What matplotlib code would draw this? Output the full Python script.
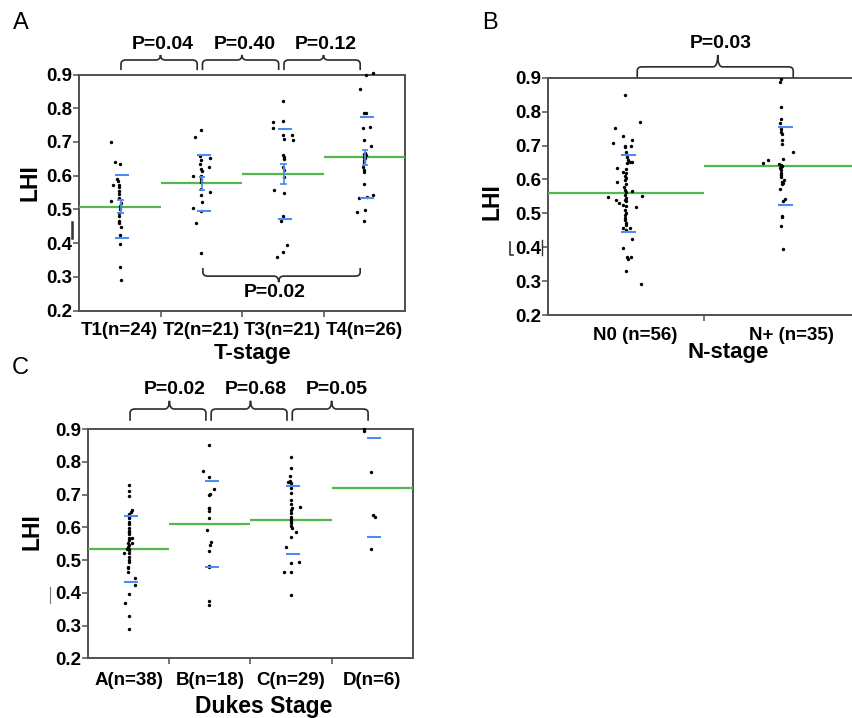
import numpy as np
import matplotlib
matplotlib.use("Agg")
import matplotlib.pyplot as plt
from matplotlib.path import Path
from matplotlib.patches import PathPatch
from matplotlib.lines import Line2D

plt.rcParams["font.family"] = ["Liberation Sans", "DejaVu Sans"]

W, H = 852, 718
GREEN = "#52b74c"
BLUE = "#4d8cf5"
SPINE = "#505050"

# ── Panel A: T-stage ───────────────────────────────────────────────────────
t_labels = ["T1(n=24)", "T2(n=21)", "T3(n=21)", "T4(n=26)"]
t_n = [24, 21, 21, 26]
t1_lhi = [0.699, 0.639, 0.634, 0.590, 0.585, 0.571, 0.572, 0.565, 0.555, 0.545, 0.535, 0.524,
          0.520, 0.510, 0.500, 0.490, 0.480, 0.466, 0.460, 0.449, 0.425, 0.398, 0.330, 0.290]
t1_jit = [-0.11, -0.053, 0.0, -0.03, -0.02, -0.01, -0.08, -0.01, -0.01, -0.01, -0.01, -0.11,
          0.01, 0.0, 0.0, -0.01, -0.01, -0.01, -0.01, 0.01, 0.0, 0.0, 0.0, 0.01]
t2_lhi = [0.735, 0.714, 0.657, 0.652, 0.645, 0.636, 0.627, 0.620, 0.615, 0.600, 0.598,
          0.590, 0.580, 0.560, 0.551, 0.543, 0.523, 0.505, 0.496, 0.461, 0.370]
t2_jit = [0.0, -0.08, -0.015, 0.105, 0.0, -0.015, 0.094, 0.0, 0.005, -0.1, -0.005,
          -0.005, -0.005, 0.0, 0.105, -0.005, 0.005, -0.1, -0.005, -0.07, -0.005]
t3_lhi = [0.822, 0.759, 0.762, 0.742, 0.722, 0.722, 0.710, 0.707, 0.660, 0.655, 0.650,
          0.627, 0.616, 0.596, 0.556, 0.548, 0.481, 0.464, 0.393, 0.373, 0.360]
t3_jit = [0.0, -0.12, 0.0, -0.12, 0.0, 0.11, 0.01, 0.12, 0.0, 0.02, 0.01,
          0.0, 0.01, 0.01, -0.105, 0.015, 0.0, -0.02, 0.057, 0.0, -0.075]
t4_lhi = [0.905, 0.898, 0.856, 0.787, 0.785, 0.745, 0.742, 0.707, 0.687, 0.667, 0.665, 0.660, 0.655,
          0.652, 0.645, 0.640, 0.627, 0.616, 0.610, 0.576, 0.544, 0.538, 0.534, 0.497, 0.493, 0.465]
t4_jit = [0.11, 0.02, -0.053, 0.0, 0.016, 0.07, -0.012, -0.004, 0.078, 0.008, 0.0, 0.02, 0.0,
          0.004, -0.004, 0.0, -0.012, 0.0, 0.0, -0.004, 0.11, 0.037, -0.06, 0.008, -0.094, 0.0]
t_mean = [0.508, 0.577, 0.605, 0.654]
t_sd = [0.094, 0.083, 0.133, 0.120]
t_pairs = ["P=0.04", "P=0.40", "P=0.12"]

# ── Panel B: N-stage ───────────────────────────────────────────────────────
n_labels = ["N0 (n=56)", "N+ (n=35)"]
n0_lhi = [0.849, 0.770, 0.751, 0.728, 0.716, 0.708, 0.700, 0.695, 0.700, 0.680, 0.665, 0.657, 0.652,
          0.650, 0.647, 0.635, 0.630, 0.623, 0.618, 0.610, 0.605, 0.598, 0.591, 0.585, 0.578, 0.570,
          0.565, 0.562, 0.555, 0.552, 0.548, 0.545, 0.540, 0.540, 0.535, 0.530, 0.525, 0.523, 0.518,
          0.510, 0.500, 0.495, 0.487, 0.480, 0.470, 0.465, 0.457, 0.458, 0.450, 0.423, 0.397, 0.372,
          0.370, 0.365, 0.331, 0.291]
n0_jit = [-0.006, 0.09, -0.07, -0.017, 0.04, -0.081, -0.006, -0.006, 0.032, -0.002, 0.004, 0.01, 0.026,
          0.04, 0.004, -0.056, 0.0, -0.021, -0.002, -0.004, 0.002, -0.006, -0.056, -0.002, -0.013, -0.006,
          0.04, 0.0, -0.004, 0.105, -0.118, 0.0, -0.064, -0.006, -0.002, -0.043, -0.017, -0.002, 0.064,
          -0.004, 0.0, -0.006, -0.006, -0.004, -0.002, 0.0, -0.017, 0.026, -0.002, 0.04, -0.017, 0.03,
          0.004, 0.01, 0.0, 0.096]
np_lhi = [0.896, 0.888, 0.813, 0.778, 0.765, 0.750, 0.739, 0.733, 0.716, 0.704, 0.680, 0.660,
          0.657, 0.649, 0.645, 0.643, 0.640, 0.640, 0.636, 0.633, 0.627, 0.620, 0.613, 0.606,
          0.599, 0.593, 0.590, 0.585, 0.572, 0.542, 0.536, 0.493, 0.488, 0.463, 0.394]
np_jit = [-0.006, -0.013, -0.006, -0.006, -0.013, -0.004, -0.006, 0.002, -0.002, 0.002, 0.068, 0.004,
          -0.092, -0.12, -0.019, -0.006, -0.004, 0.0, -0.008, -0.013, -0.008, -0.006, -0.008, -0.004,
          0.015, 0.002, 0.004, -0.002, -0.013, 0.019, 0.004, 0.002, 0.002, -0.006, 0.009]
n_mean = [0.559, 0.640]
n_sd = [0.114, 0.116]

# ── Panel C: Dukes stage ───────────────────────────────────────────────────
d_labels = ["A(n=38)", "B(n=18)", "C(n=29)", "D(n=6)"]
da_lhi = [0.730, 0.712, 0.694, 0.653, 0.648, 0.640, 0.633, 0.627, 0.616, 0.610, 0.599, 0.590, 0.585,
          0.579, 0.567, 0.567, 0.560, 0.551, 0.551, 0.546, 0.540, 0.535, 0.535, 0.530, 0.522, 0.522,
          0.510, 0.500, 0.494, 0.480, 0.475, 0.463, 0.446, 0.423, 0.396, 0.368, 0.328, 0.289]
da_jit = [0.0, 0.0, 0.0, 0.037, 0.025, 0.0, 0.0, 0.0, 0.0, 0.0, 0.0, 0.0, 0.0,
          0.008, 0.037, 0.0, 0.0, -0.016, 0.037, 0.004, -0.008, -0.025, 0.008, 0.0, -0.058, 0.0,
          0.0, 0.0, 0.0, -0.012, -0.016, -0.016, 0.07, 0.07, 0.0, -0.053, 0.008, 0.0]
db_lhi = [0.851, 0.773, 0.753, 0.718, 0.702, 0.700, 0.660, 0.658, 0.650,
          0.628, 0.592, 0.554, 0.546, 0.528, 0.482, 0.478, 0.374, 0.362]
db_jit = [-0.016, -0.086, -0.016, 0.045, -0.004, -0.016, -0.016, -0.016, -0.012,
          -0.016, -0.033, 0.008, -0.004, -0.016, -0.016, -0.008, -0.016, -0.016]
dc_lhi = [0.815, 0.780, 0.756, 0.740, 0.739, 0.736, 0.730, 0.720, 0.705, 0.682, 0.670, 0.663, 0.660,
          0.653, 0.643, 0.630, 0.625, 0.620, 0.612, 0.605, 0.599, 0.586, 0.571, 0.540, 0.494, 0.491,
          0.463, 0.463, 0.392]
dc_jit = [-0.006, -0.006, -0.018, -0.018, -0.039, 0.002, -0.006, -0.006, -0.006, -0.006, 0.0, 0.105, 0.01,
          -0.006, -0.006, 0.0, -0.006, 0.002, -0.006, 0.0, 0.01, 0.064, -0.006, -0.068, 0.097, -0.006,
          -0.092, -0.006, -0.006]
dd_lhi = [0.900, 0.893, 0.769, 0.636, 0.630, 0.533]
dd_jit = [-0.095, -0.095, -0.012, 0.008, 0.029, -0.012]
d_mean = [0.534, 0.610, 0.622, 0.720]
d_sd = [0.100, 0.1315, 0.1025, 0.151]
d_pairs = ["P=0.02", "P=0.68", "P=0.05"]


def axes_px(fig, left, top, right, bottom):
    """Add axes from pixel edges (origin top-left)."""
    return fig.add_axes([left / W, 1 - bottom / H, (right - left) / W, (bottom - top) / H])


def style_axes(ax, labels, label_shift=0.0, pad=7):
    ncat = len(labels)
    ax.set_xlim(0, ncat)
    ax.set_ylim(0.2, 0.9)
    yt = [0.2, 0.3, 0.4, 0.5, 0.6, 0.7, 0.8, 0.9]
    ax.set_yticks(yt)
    ax.set_yticklabels([f"{v:.1f}" for v in yt], fontweight="bold", fontsize=13.5)
    ax.set_xticks(np.arange(1, ncat))
    ax.set_xticklabels([])
    ax.set_xticks(np.arange(ncat) + 0.5 + label_shift, minor=True)
    ax.set_xticklabels(labels, minor=True, fontweight="bold", fontsize=13.5)
    ax.tick_params(axis="y", length=4.5, width=1.1, pad=0.5, color=SPINE)
    ax.tick_params(axis="x", which="major", length=4.5, width=1.1, color=SPINE)
    ax.tick_params(axis="x", which="minor", length=0, pad=pad)
    for sp in ax.spines.values():
        sp.set_color(SPINE)
        sp.set_linewidth(1.4)


def draw_group(ax, i, vals, jit, mean, sd, n=None, sd_off=0.025, sd_w=0.17):
    c = i + 0.5
    ax.scatter(c + np.asarray(jit), vals, s=6, color="black", linewidths=0, zorder=4, clip_on=False)
    ax.hlines(mean, i, i + 1, color=GREEN, lw=1.6, zorder=3)
    x = c + sd_off
    ax.hlines([mean - sd, mean + sd], x - sd_w / 2, x + sd_w / 2, color=BLUE, lw=1.5, zorder=5)
    if n is not None:
        # mean +/- SEM error bar
        sem = sd / np.sqrt(n)
        xe = c + 0.012
        ax.vlines(xe, mean - sem, mean + sem, color=BLUE, lw=1.3, zorder=5)
        ax.hlines([mean - sem, mean + sem], xe - 0.04, xe + 0.04, color=BLUE, lw=1.3, zorder=5)


def brace(ax, x0, x1, xm, y_end, y_bar, y_tip, rx, ry):
    """Curly bracket between x0 and x1 with its point at xm."""
    d = np.sign(y_tip - y_bar)
    verts = [
        (x0, y_end), (x0, y_bar - d * ry),
        (x0, y_bar), (x0 + rx, y_bar),
        (xm - rx, y_bar),
        (xm, y_bar), (xm, y_tip),
        (xm, y_bar), (xm + rx, y_bar),
        (x1 - rx, y_bar),
        (x1, y_bar), (x1, y_bar - d * ry),
        (x1, y_end),
    ]
    codes = [Path.MOVETO, Path.LINETO,
             Path.CURVE3, Path.CURVE3,
             Path.LINETO,
             Path.CURVE3, Path.CURVE3,
             Path.CURVE3, Path.CURVE3,
             Path.LINETO,
             Path.CURVE3, Path.CURVE3,
             Path.LINETO]
    ax.add_patch(PathPatch(Path(verts, codes), fill=False, edgecolor="#2b2b2b",
                           lw=1.2, clip_on=False, zorder=6))


def stray(fig, xs, ys, lw=1.5, color="#333333"):
    fig.add_artist(Line2D([x / W for x in xs], [1 - y / H for y in ys], lw=lw, color=color))


fig = plt.figure(figsize=(W / 100, H / 100), dpi=100)
fig.patch.set_facecolor("white")

# ── A ──────────────────────────────────────────────────────────────────────
axA = axes_px(fig, 79, 74.5, 405, 310.5)
style_axes(axA, t_labels, pad=8)
for i, (v, j) in enumerate([(t1_lhi, t1_jit), (t2_lhi, t2_jit), (t3_lhi, t3_jit), (t4_lhi, t4_jit)]):
    draw_group(axA, i, v, j, t_mean[i], t_sd[i], n=t_n[i], sd_off=0.03)
for k, p in enumerate(t_pairs):
    brace(axA, k + 0.515, k + 1.45, k + 1.0, 0.913, 0.943, 0.958, 0.06, 0.012)
    axA.text(k + 1.03, 0.99, p, ha="center", va="center", fontsize=14,
             fontweight="bold", clip_on=False)
brace(axA, 1.52, 3.45, 2.45, 0.326, 0.302, 0.284, 0.06, 0.012)
axA.text(2.40, 0.252, "P=0.02", ha="center", va="center", fontsize=14, fontweight="bold")
axA.text(-0.15, 0.54, "LHI", transform=axA.transAxes, rotation=90, ha="center", va="center",
         fontsize=16.5, fontweight="bold")
axA.text(0.531, -0.184, "T-stage", transform=axA.transAxes, ha="center", va="center",
         fontsize=16, fontweight="bold")

# ── B ──────────────────────────────────────────────────────────────────────
axB = axes_px(fig, 548, 77.7, 860, 315)
style_axes(axB, n_labels, label_shift=0.06, pad=9)
draw_group(axB, 0, n0_lhi, n0_jit, n_mean[0], n_sd[0], sd_off=0.016, sd_w=0.096)
draw_group(axB, 1, np_lhi, np_jit, n_mean[1], n_sd[1], sd_off=0.02, sd_w=0.096)
brace(axB, 0.572, 1.572, 1.088, 0.90, 0.932, 0.967, 0.03, 0.012)
axB.text(1.11, 1.0, "P=0.03", ha="center", va="center", fontsize=14,
         fontweight="bold", clip_on=False)
axB.text(-0.179, 0.476, "LHI", transform=axB.transAxes, rotation=90, ha="center", va="center",
         fontsize=16.5, fontweight="bold")
axB.text(0.576, -0.156, "N-stage", transform=axB.transAxes, ha="center", va="center",
         fontsize=16, fontweight="bold")

# ── C ──────────────────────────────────────────────────────────────────────
axC = axes_px(fig, 88.3, 429, 412.7, 658.3)
style_axes(axC, d_labels, pad=10)
for i, (v, j) in enumerate([(da_lhi, da_jit), (db_lhi, db_jit), (dc_lhi, dc_jit), (dd_lhi, dd_jit)]):
    draw_group(axC, i, v, j, d_mean[i], d_sd[i], sd_off=0.022)
for k, p in enumerate(d_pairs):
    brace(axC, k + 0.515, k + 1.45, k + 1.0, 0.925, 0.961, 0.986, 0.06, 0.012)
    axC.text(k + 1.06, 1.02, p, ha="center", va="center", fontsize=14,
             fontweight="bold", clip_on=False)
axC.text(-0.174, 0.551, "LHI", transform=axC.transAxes, rotation=90, ha="center", va="center",
         fontsize=16.5, fontweight="bold")
axC.text(0.542, -0.211, "Dukes Stage", transform=axC.transAxes, ha="center", va="center",
         fontsize=16.5, fontweight="bold")

# panel letters
fig.text(21 / W, 1 - 23 / H, "A", ha="center", va="center", fontsize=17)
fig.text(490 / W, 1 - 23 / H, "B", ha="center", va="center", fontsize=17)
fig.text(20 / W, 1 - 368 / H, "C", ha="center", va="center", fontsize=17)

# small leftover marks beside the 0.4 ticks
stray(fig, [72, 72], [222, 238], lw=1.8)
stray(fig, [510, 510, 513], [242, 255, 255], lw=1.2)
stray(fig, [542, 542], [240, 255], lw=1.0)
stray(fig, [50, 50], [587, 603], lw=0.8, color="#777777")

fig.savefig("out.png", dpi=100, facecolor="white")
